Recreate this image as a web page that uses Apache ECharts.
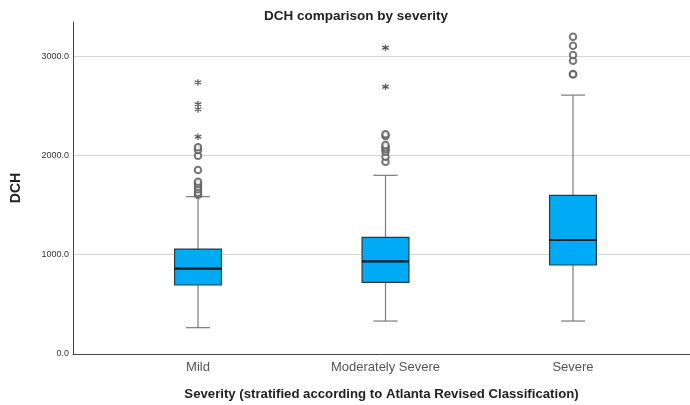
<!DOCTYPE html>
<html>
<head>
<meta charset="utf-8">
<script src="https://cdn.jsdelivr.net/npm/echarts@6/dist/echarts.min.js"></script>
<style>html,body{margin:0;padding:0;background:#fff}#c{width:690px;height:405px}</style>
</head>
<body>
<div id="c"></div>
<script>
var categories = ['Mild', 'Moderately Severe', 'Severe'];
var whiskerLow = [265, 332, 332];
var q1 = [695, 722, 896];
var median = [859, 933, 1148];
var q3 = [1057, 1175, 1597];
var whiskerHigh = [1584, 1799, 2607];
var outlierCircles = [
  [1604, 1624, 1658, 1684, 1711, 1735, 1852, 1997, 2054, 2081],
  [1936, 1986, 2037, 2061, 2081, 2104, 2195, 2212],
  [2816, 2816, 2953, 3010, 3104, 3194]
];
var outlierStars = [
  [2188, 2463, 2514, 2735],
  [2691, 3084],
  []
];
var yTicks = [0, 1000, 2000, 3000];

var boxData = categories.map(function (c, i) {
  return [i + 1, whiskerLow[i], q1[i], median[i], q3[i], whiskerHigh[i]];
});
var circleData = [], starData = [];
outlierCircles.forEach(function (arr, i) { arr.forEach(function (v) { circleData.push([i + 1, v]); }); });
outlierStars.forEach(function (arr, i) { arr.forEach(function (v) { starData.push([i + 1, v]); }); });

var chart = echarts.init(document.getElementById('c'));
chart.setOption({
  animation: false,
  textStyle: { fontFamily: 'Liberation Sans, Arial, sans-serif' },
  title: {
    text: 'DCH comparison by severity',
    left: 351, textAlign: 'center', top: 4,
    textStyle: { fontSize: 13.5, fontWeight: 'bold', color: '#222', fontFamily: 'Liberation Sans, Arial, sans-serif' }
  },
  grid: { left: 73, right: 0, top: 22, bottom: 51, outerBoundsMode: 'none', containLabel: false },
  xAxis: {
    type: 'value', min: 0.3333, max: 3.624,
    axisLine: { show: true, lineStyle: { color: '#444', width: 1 } },
    axisTick: { show: false },
    splitLine: { show: false },
    axisLabel: {
      customValues: [1, 2, 3],
      formatter: function (v) { return categories[Math.round(v) - 1] || ''; },
      color: '#555', fontSize: 13, margin: 7
    },
    name: 'Severity (stratified according to Atlanta Revised Classification)',
    nameLocation: 'middle', nameGap: 34,
    nameTextStyle: { fontSize: 13.2, fontWeight: 'bold', color: '#222' }
  },
  yAxis: {
    type: 'value', min: 0, max: 3343, interval: 1000,
    axisLine: { show: true, lineStyle: { color: '#444', width: 1 } },
    axisTick: { show: false },
    splitLine: { show: true, showMaxLine: false, showMinLine: false, lineStyle: { color: '#d4d4d4', width: 1 } },
    axisLabel: {
      showMaxLabel: false,
      formatter: function (v) { return yTicks.indexOf(v) >= 0 ? v.toFixed(1) : ''; },
      color: '#333', fontSize: 9, margin: 4
    },
    name: 'DCH', nameLocation: 'middle', nameGap: 50, nameRotate: 90,
    nameTextStyle: { fontSize: 14, fontWeight: 'bold', color: '#222' }
  },
  series: [
    {
      type: 'custom',
      data: boxData,
      encode: { x: 0, y: [1, 2, 3, 4, 5] },
      renderItem: function (params, api) {
        var x = api.value(0);
        var pMin = api.coord([x, api.value(1)]);
        var pQ1 = api.coord([x, api.value(2)]);
        var pMed = api.coord([x, api.value(3)]);
        var pQ3 = api.coord([x, api.value(4)]);
        var pMax = api.coord([x, api.value(5)]);
        var halfBox = api.size([0.125, 0])[0];
        var halfCap = api.size([0.064, 0])[0];
        var cx = pMin[0];
        var wl = { stroke: '#7a7a7a', lineWidth: 1.2 };
        return {
          type: 'group',
          children: [
            { type: 'line', shape: { x1: cx, y1: pMin[1], x2: cx, y2: pQ1[1] }, style: wl },
            { type: 'line', shape: { x1: cx, y1: pQ3[1], x2: cx, y2: pMax[1] }, style: wl },
            { type: 'line', shape: { x1: cx - halfCap, y1: pMin[1], x2: cx + halfCap, y2: pMin[1] }, style: wl },
            { type: 'line', shape: { x1: cx - halfCap, y1: pMax[1], x2: cx + halfCap, y2: pMax[1] }, style: wl },
            { type: 'rect', shape: { x: cx - halfBox, y: pQ3[1], width: halfBox * 2, height: pQ1[1] - pQ3[1] },
              style: { fill: '#00aaf4', stroke: '#2a3a44', lineWidth: 1.2 } },
            { type: 'line', shape: { x1: cx - halfBox, y1: pMed[1], x2: cx + halfBox, y2: pMed[1] },
              style: { stroke: '#0d1a22', lineWidth: 2.2 } }
          ]
        };
      },
      z: 2
    },
    {
      type: 'scatter',
      data: circleData,
      symbol: 'emptyCircle', symbolSize: 6.5,
      itemStyle: { color: '#555', borderColor: '#555', borderWidth: 1.3 },
      z: 3
    },
    {
      type: 'scatter',
      data: starData,
      symbol: 'path://M5 0 L5 10 M0.67 2.5 L9.33 7.5 M0.67 7.5 L9.33 2.5',
      symbolSize: 6.5,
      itemStyle: { color: 'none', borderColor: '#333', borderWidth: 1.3 },
      z: 3
    }
  ]
});
</script>
</body>
</html>
